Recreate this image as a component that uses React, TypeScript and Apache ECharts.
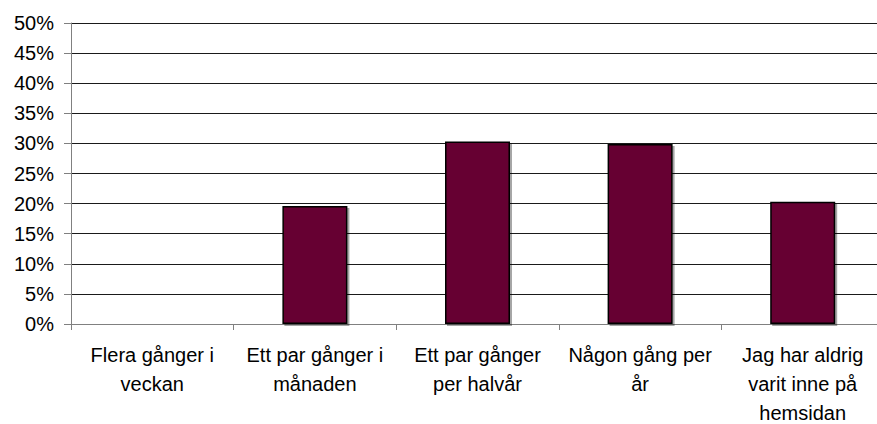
import React, { useEffect, useRef } from "react";
import * as echarts from "echarts";

const categories = [
  "Flera gånger i\nveckan",
  "Ett par gånger i\nmånaden",
  "Ett par gånger\nper halvår",
  "Någon gång per\når",
  "Jag har aldrig\nvarit inne på\nhemsidan",
];
const values = [0, 19.6, 30.3, 29.9, 20.3];
const yMin = 0;
const yMax = 50;
const yStep = 5;

export default function App() {
  const ref = useRef<HTMLDivElement>(null);
  useEffect(() => {
    if (!ref.current) return;
    const chart = echarts.init(ref.current, undefined, { renderer: "svg" });
    const font = "'Liberation Sans', Arial, sans-serif";
    chart.setOption({
      animation: false,
      backgroundColor: "#ffffff",
      textStyle: { fontFamily: font },
      grid: {
        left: 71,
        top: 23,
        width: 813,
        height: 301,
        outerBoundsMode: "none",
        containLabel: false,
      },
      xAxis: {
        type: "category",
        data: categories,
        axisLine: { lineStyle: { color: "#808080", width: 1 } },
        axisTick: { show: true, length: 6, lineStyle: { color: "#808080" } },
        axisLabel: {
          interval: 0,
          color: "#000",
          fontSize: 20,
          fontFamily: font,
          lineHeight: 29,
          margin: 16,
        },
      },
      yAxis: {
        type: "value",
        min: yMin,
        max: yMax,
        interval: yStep,
        axisLine: { show: true, lineStyle: { color: "#808080", width: 1 } },
        axisTick: { show: true, length: 7, lineStyle: { color: "#808080" } },
        splitLine: { show: true, lineStyle: { color: "#1a1a1a", width: 1 } },
        axisLabel: {
          formatter: "{value}%",
          color: "#000",
          fontSize: 20,
          fontFamily: font,
          margin: 17,
        },
      },
      series: [
        {
          type: "bar",
          data: values,
          barWidth: 65,
          itemStyle: {
            color: "#660033",
            borderColor: "#000",
            borderWidth: 1.5,
            shadowColor: "rgba(0,0,0,0.35)",
            shadowOffsetX: 2,
            shadowOffsetY: 2,
            shadowBlur: 0,
          },
        },
      ],
    });
    return () => chart.dispose();
  }, []);
  return (
    <div
      ref={ref}
      style={{ position: "absolute", left: 0, top: 0, width: 877, height: 424 }}
    />
  );
}
